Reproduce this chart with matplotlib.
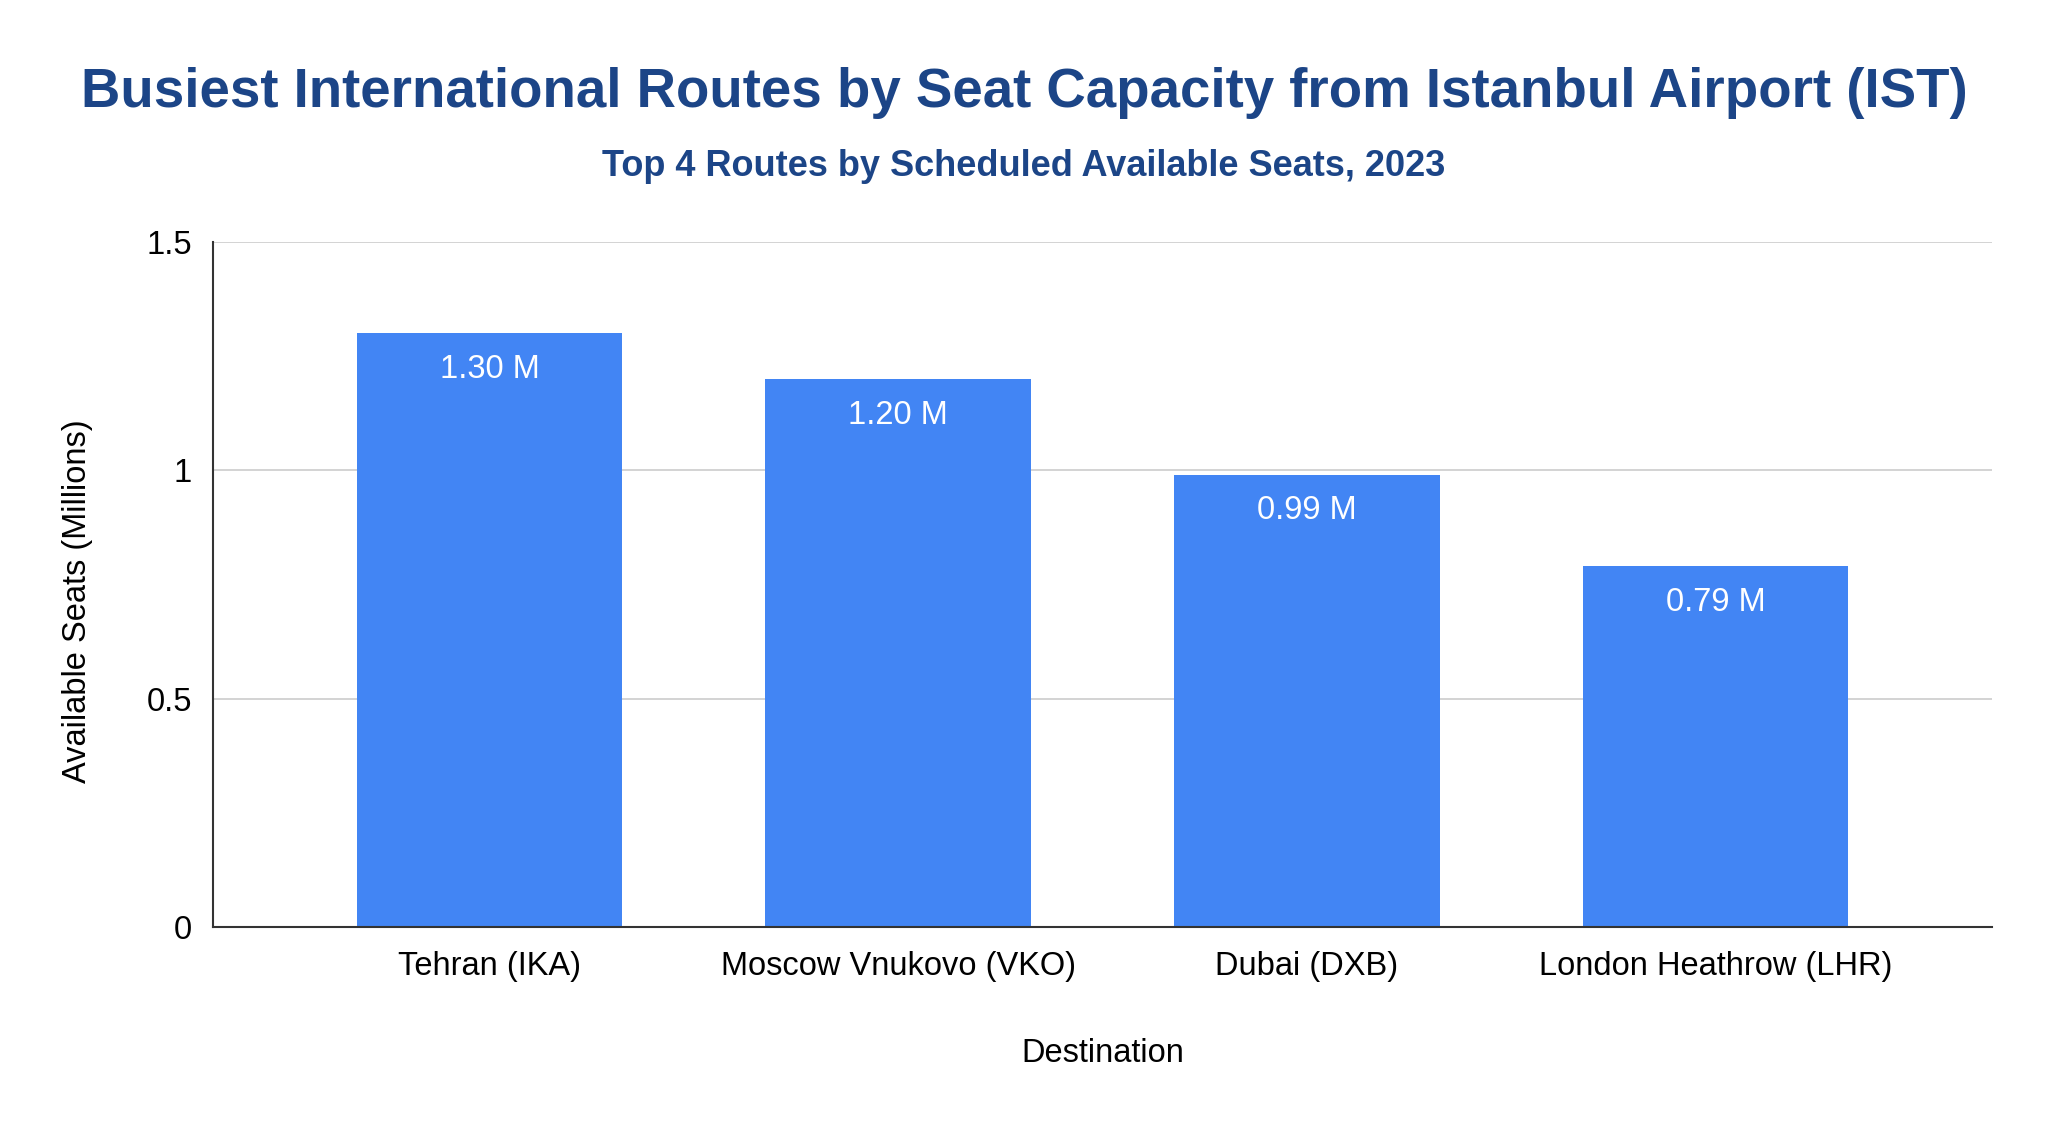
import matplotlib
matplotlib.use("Agg")
import matplotlib.pyplot as plt

destinations = ["Tehran (IKA)", "Moscow Vnukovo (VKO)", "Dubai (DXB)", "London Heathrow (LHR)"]
seats_millions = [1.30, 1.20, 0.99, 0.79]
value_labels = ["1.30 M", "1.20 M", "0.99 M", "0.79 M"]
y_ticks = [0, 0.5, 1, 1.5]
y_tick_labels = ["0", "0.5", "1", "1.5"]

title = "Busiest International Routes by Seat Capacity from Istanbul Airport (IST)"
subtitle = "Top 4 Routes by Scheduled Available Seats, 2023"

plt.rcParams['font.family'] = ['Liberation Sans', 'DejaVu Sans']

W, H = 2048, 1124
fig = plt.figure(figsize=(W / 100, H / 100), dpi=100)
ax = fig.add_axes([213 / W, 1 - 927 / H, (1992 - 213) / W, (927 - 242) / H])

x = list(range(len(destinations)))
bars = ax.bar(x, seats_millions, width=0.65, color="#4285f4", zorder=3)

ax.set_xlim(-0.677, len(destinations) - 1 + 0.677)
ax.set_ylim(0, 1.5)
ax.set_yticks(y_ticks)
ax.set_yticklabels(y_tick_labels)
ax.set_xticks(x)
ax.set_xticklabels(destinations)
ax.tick_params(axis="both", length=0, labelsize=23.5, colors="#000000")
ax.tick_params(axis="y", pad=15)
ax.tick_params(axis="x", pad=17)

ax.grid(axis="y", color="#cccccc", linewidth=1.2, zorder=0)
for s in ["top", "right"]:
    ax.spines[s].set_visible(False)
ax.spines["left"].set_color("#333333")
ax.spines["bottom"].set_color("#333333")
ax.spines["left"].set_linewidth(1.5)
ax.spines["bottom"].set_linewidth(1.5)
ax.spines["left"].set_zorder(4)
ax.spines["bottom"].set_zorder(4)

for xi, v, lab in zip(x, seats_millions, value_labels):
    ax.annotate(lab, xy=(xi, v), xytext=(0, -36 * 0.72), textcoords="offset points",
                ha="center", va="center", color="white", fontsize=23.5, zorder=5)

fig.text(0.5, 1 - 93 / H, title, ha="center", va="center", fontsize=39.3,
         fontweight="bold", color="#1c4587")
fig.text(0.5, 1 - 167 / H, subtitle, ha="center", va="center", fontsize=26,
         fontweight="bold", color="#1c4587")

fig.text((213 + 1992) / 2 / W, 1 - 1053 / H, "Destination", ha="center", va="center",
         fontsize=23.5, color="#000000")
fig.text(78 / W, 1 - 601 / H, "Available Seats (Millions)", ha="center", va="center",
         rotation=90, fontsize=23.5, color="#000000")

fig.savefig("out.png", dpi=100, facecolor="white")
